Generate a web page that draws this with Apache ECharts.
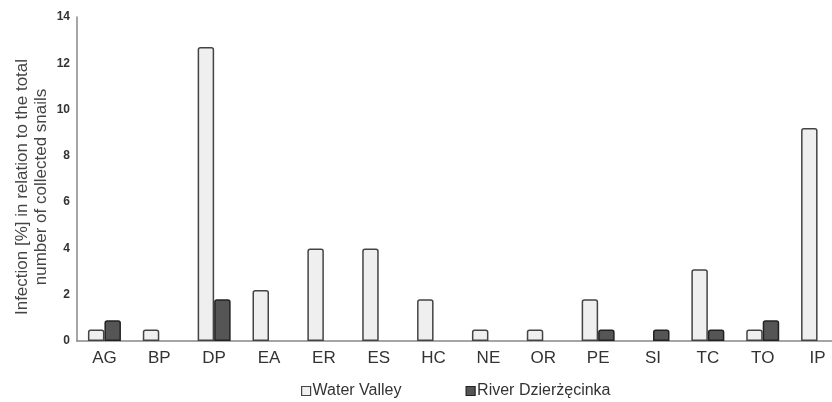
<!DOCTYPE html>
<html><head><meta charset="utf-8">
<script src="https://cdn.jsdelivr.net/npm/echarts@6/dist/echarts.min.js"></script>
<style>html,body{margin:0;padding:0;background:#fff}#c{width:832px;height:402px}</style>
</head><body><div id="c"></div>
<script>
const categories = ['AG','BP','DP','EA','ER','ES','HC','NE','OR','PE','SI','TC','TO','IP'];
const waterValley = [0.5,0.5,12.7,2.2,4.0,4.0,1.8,0.5,0.5,1.8,0,3.1,0.5,9.2];
const riverDz = [0.9,0,1.8,0,0,0,0,0,0,0.5,0.5,0.5,0.9,0];
const yTicks = [0,2,4,6,8,10,12,14];
const font = 'Liberation Sans, Arial, sans-serif';
const noZero = arr => arr.map(v => v === 0 ? '-' : v);
const chart = echarts.init(document.getElementById('c'));
chart.setOption({
  animation:false,
  grid:{left:77,top:17,bottom:61,width:768,outerBoundsMode:'none',containLabel:false},
  legend:{top:378,left:296,itemGap:64,itemWidth:9,itemHeight:9,icon:'rect',
    textStyle:{fontFamily:font,fontSize:16,color:'#333',padding:[0,0,0,-3]},
    data:[{name:'Water Valley',itemStyle:{color:'#efefef',borderColor:'#444',borderWidth:1.2}},
          {name:'River Dzierżęcinka',itemStyle:{color:'#555',borderColor:'#222',borderWidth:1.2}}]},
  xAxis:{type:'category',data:categories,
    axisLine:{lineStyle:{color:'#888',width:1.5}},axisTick:{show:false},
    axisLabel:{fontFamily:font,fontSize:17,color:'#333',margin:9}},
  yAxis:{type:'value',min:0,max:14,interval:2,
    name:'Infection [%] in relation to the total\nnumber of collected snails',
    nameLocation:'middle',nameGap:26,nameMoveOverlap:false,
    nameTextStyle:{fontFamily:font,fontSize:17,color:'#444',lineHeight:19,padding:[0,16,0,0]},
    axisLine:{show:true,lineStyle:{color:'#888',width:1.5}},axisTick:{show:false},splitLine:{show:false},
    axisLabel:{fontFamily:font,fontSize:12,fontWeight:'bold',color:'#333',margin:7,
      formatter:v=>yTicks.includes(v)?String(v):''}},
  series:[
    {name:'Water Valley',type:'bar',data:noZero(waterValley),barWidth:16.5,barGap:'0%',
      itemStyle:{color:'#efefef',borderColor:'#444',borderWidth:1.5,borderRadius:[2,2,0,0]}},
    {name:'River Dzierżęcinka',type:'bar',data:noZero(riverDz),barWidth:16.5,
      itemStyle:{color:'#555',borderColor:'#222',borderWidth:1.5,borderRadius:[2,2,0,0]}}
  ]
});
</script></body></html>
